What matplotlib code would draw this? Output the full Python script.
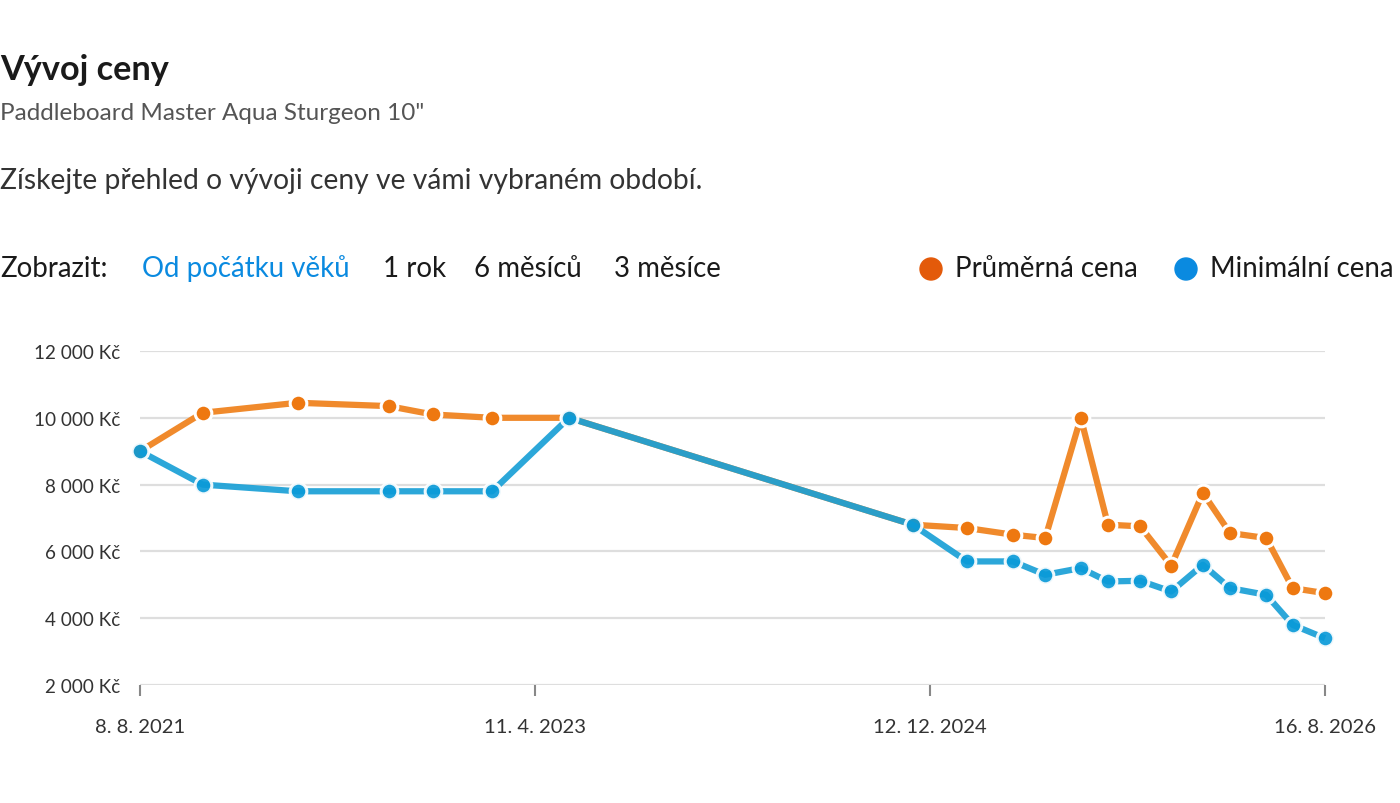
import matplotlib
matplotlib.use("Agg")
import matplotlib.pyplot as plt
import matplotlib.dates as mdates
import pandas as pd

plt.rcParams['font.family'] = ['Lato', 'DejaVu Sans']

dates = pd.to_datetime([
    "2021-08-08", "2021-11-13", "2022-04-09", "2022-08-28", "2022-11-04",
    "2023-02-04", "2023-06-03", "2024-11-16", "2025-02-08", "2025-04-20",
    "2025-06-09", "2025-08-03", "2025-09-14", "2025-11-03", "2025-12-21",
    "2026-02-08", "2026-03-22", "2026-05-17", "2026-06-27", "2026-08-16",
])
avg_price = [9000, 10150, 10450, 10350, 10100, 10000, 10000, 6800, 6700, 6500,
             6400, 10000, 6800, 6750, 5570, 7750, 6550, 6400, 4900, 4750]
min_price = [9000, 8000, 7800, 7800, 7800, 7800, 10000, 6800, 5700, 5700,
             5300, 5500, 5100, 5120, 4800, 5600, 4900, 4700, 3800, 3400]
tick_dates = pd.to_datetime(["2021-08-08", "2023-04-11", "2024-12-12", "2026-08-16"])
tick_labels = ["8. 8. 2021", "11. 4. 2023", "12. 12. 2024", "16. 8. 2026"]
y_ticks = [2000, 4000, 6000, 8000, 10000, 12000]
y_labels = ["2 000 Kč", "4 000 Kč", "6 000 Kč", "8 000 Kč", "10 000 Kč", "12 000 Kč"]

W, H = 1400, 804
fig = plt.figure(figsize=(W / 100, H / 100), dpi=100)
fig.patch.set_facecolor("white")

ax = fig.add_axes([140 / W, 1 - 686 / H, 1185 / W, 334 / H])
ax.set_xlim(tick_dates[0], tick_dates[-1])
ax.set_ylim(2000, 12000)

for s in ax.spines.values():
    s.set_visible(False)
ax.set_yticks(y_ticks)
ax.set_yticklabels(y_labels)
ax.set_xticks(tick_dates)
ax.set_xticklabels(tick_labels)
ax.tick_params(axis='y', length=0, pad=14, labelsize=13.6, labelcolor="#333333")
ax.tick_params(axis='x', length=8, width=1.5, color="#888888", pad=16,
               labelsize=14.6, labelcolor="#333333")
for yv in y_ticks:
    ax.axhline(yv, color="#dedede", lw=1.6, zorder=0)

orange_line = "#f08a2c"
orange_mark = "#ee7810"
blue_line = "#1aa0d6"
blue_mark = "#0a9ad8"

ax.plot(dates, avg_price, color=orange_line, lw=4.5, solid_capstyle='butt',
        marker='o', ms=12, mfc=orange_mark, mec="white", mew=2.2,
        clip_on=False, zorder=3)
ax.plot(dates, min_price, color=blue_line, lw=4.5, alpha=0.92, solid_capstyle='butt',
        marker='o', ms=12, mfc=blue_mark, mec="white", mew=2.2,
        clip_on=False, zorder=4)

# Header texts
fig.text(0 / W, 1 - 70 / H, "Vývoj ceny", fontsize=24.7, fontweight='bold',
         color="#1a1a1a", va='center', ha='left')
fig.text(0 / W, 1 - 113 / H, "Paddleboard Master Aqua Sturgeon 10\"", fontsize=17.5,
         color="#555555", va='center', ha='left')
fig.text(0 / W, 1 - 181 / H, "Získejte přehled o vývoji ceny ve vámi vybraném období.",
         fontsize=20.3, color="#333333", va='center', ha='left')

row_y = 1 - 269 / H
fs = 19.9
fig.text(0 / W, row_y, "Zobrazit:", fontsize=fs, color="#1a1a1a", va='center', ha='left')
fig.text(142 / W, row_y, "Od počátku věků", fontsize=fs, color="#0a8ae0", va='center', ha='left')
fig.text(383 / W, row_y, "1 rok", fontsize=fs, color="#1a1a1a", va='center', ha='left')
fig.text(474 / W, row_y, "6 měsíců", fontsize=fs, color="#1a1a1a", va='center', ha='left')
fig.text(614 / W, row_y, "3 měsíce", fontsize=fs, color="#1a1a1a", va='center', ha='left')

fig.patches.append(matplotlib.patches.Ellipse((931 / W, 1 - 270 / H), 22 / W, 22 / H,
                   transform=fig.transFigure, color="#e35a0a"))
fig.text(955 / W, row_y, "Průměrná cena", fontsize=fs, color="#1a1a1a", va='center', ha='left')
fig.patches.append(matplotlib.patches.Ellipse((1186 / W, 1 - 270 / H), 22 / W, 22 / H,
                   transform=fig.transFigure, color="#0a8ae0"))
fig.text(1210 / W, row_y, "Minimální cena", fontsize=fs, color="#1a1a1a", va='center', ha='left')

fig.savefig("out.png", dpi=100, facecolor="white")
